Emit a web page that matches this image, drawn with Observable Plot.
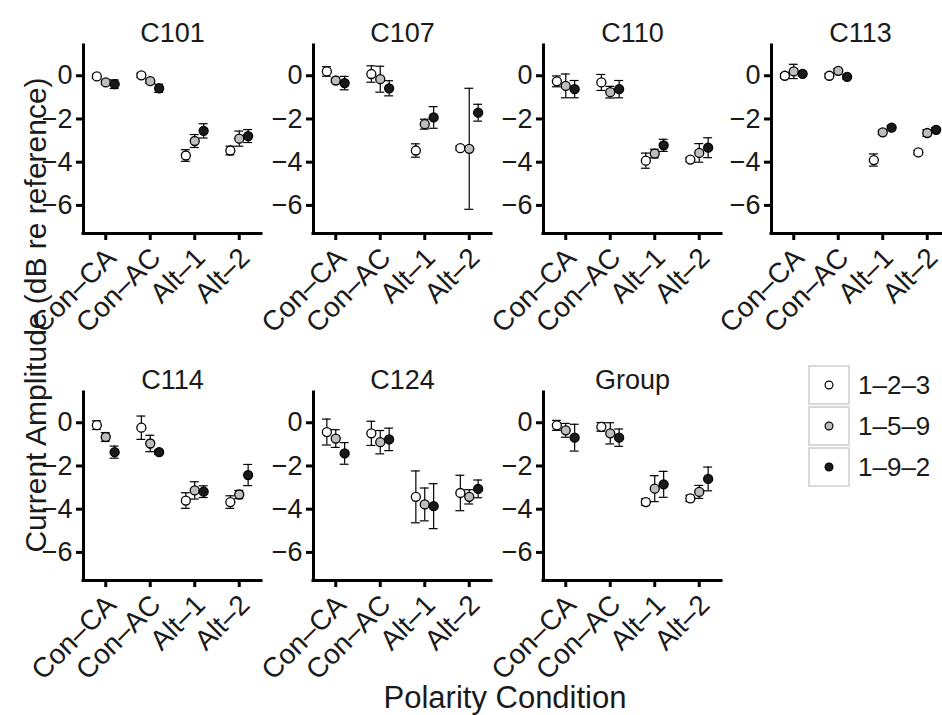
<!DOCTYPE html>
<html><head><meta charset="utf-8">
<script src="https://cdn.jsdelivr.net/npm/d3@7"></script>
<script src="https://cdn.jsdelivr.net/npm/@observablehq/plot@0.6"></script>
<style>
body{margin:0;background:#fff;font-family:"Liberation Sans",Arial,Helvetica,sans-serif;}
#chart{position:relative;width:942px;height:715px;overflow:hidden;background:#fff;color:#1a1a1a}
.panel{position:absolute}
.lgbox{position:absolute;box-sizing:border-box;border:2px solid #d9d9d9;width:42px;height:40px}
.lglab{position:absolute;font-size:26px;line-height:40px;height:40px;white-space:nowrap}
</style></head><body><div id="chart"></div>
<script>
// ---- data ----
const conditions = ["Con–CA", "Con–AC", "Alt–1", "Alt–2"];
const configs = ["1–2–3", "1–5–9", "1–9–2"];
const panelNames = ["C101", "C107", "C110", "C113", "C114", "C124", "Group"];
const yTicks = [0, -2, -4, -6];

// means: per condition, [1-2-3, 1-5-9, 1-9-2]
const c101Mean = [[-0.03, -0.31, -0.39], [0.02, -0.25, -0.58], [-3.69, -3.02, -2.55], [-3.46, -2.91, -2.79]];
const c101Err  = [[0.10, 0.10, 0.20], [0.10, 0.10, 0.19], [0.27, 0.30, 0.33], [0.20, 0.35, 0.30]];
const c107Mean = [[0.20, -0.22, -0.34], [0.08, -0.16, -0.58], [-3.46, -2.24, -1.93], [-3.35, -3.38, -1.71]];
const c107Err  = [[0.22, 0.10, 0.31], [0.38, 0.60, 0.35], [0.31, 0.23, 0.50], [0.10, 2.80, 0.39]];
const c110Mean = [[-0.26, -0.47, -0.62], [-0.31, -0.76, -0.62], [-3.93, -3.60, -3.22], [-3.88, -3.57, -3.33]];
const c110Err  = [[0.25, 0.55, 0.40], [0.37, 0.27, 0.40], [0.35, 0.20, 0.28], [0.10, 0.43, 0.46]];
const c113Mean = [[0.00, 0.20, 0.09], [0.00, 0.23, -0.05], [-3.90, -2.62, -2.40], [-3.55, -2.65, -2.50]];
const c113Err  = [[0.10, 0.33, 0.10], [0.10, 0.10, 0.10], [0.28, 0.10, 0.10], [0.10, 0.15, 0.10]];
const c114Mean = [[-0.11, -0.66, -1.36], [-0.23, -0.96, -1.36], [-3.60, -3.13, -3.19], [-3.67, -3.32, -2.42]];
const c114Err  = [[0.20, 0.20, 0.28], [0.54, 0.38, 0.10], [0.36, 0.40, 0.27], [0.29, 0.19, 0.49]];
const c124Mean = [[-0.43, -0.73, -1.42], [-0.49, -0.90, -0.77], [-3.43, -3.78, -3.86], [-3.25, -3.43, -3.06]];
const c124Err  = [[0.60, 0.41, 0.50], [0.56, 0.54, 0.52], [1.20, 0.76, 1.04], [0.82, 0.33, 0.41]];
const groupMean = [[-0.12, -0.35, -0.69], [-0.19, -0.49, -0.69], [-3.67, -3.05, -2.85], [-3.50, -3.20, -2.60]];
const groupErr  = [[0.23, 0.32, 0.62], [0.20, 0.49, 0.40], [0.15, 0.60, 0.60], [0.15, 0.30, 0.55]];

const panelMeans = [c101Mean, c107Mean, c110Mean, c113Mean, c114Mean, c124Mean, groupMean];
const panelErrs = [c101Err, c107Err, c110Err, c113Err, c114Err, c124Err, groupErr];

// ---- style / layout ----
const FONT = '"Liberation Sans", Arial, Helvetica, sans-serif';
const fills = ["#ffffff", "#bdbdbd", "#1a1a1a"];
const dodge = 0.2, cap = 0.1;
const colLeft = [33, 263, 493, 721];
const rowTop = [0, 347];
const chart = document.getElementById("chart");

function rows(means, errs) {
  const out = [];
  conditions.forEach((c, ci) => configs.forEach((g, gi) => {
    out.push({cond: c, config: g, xi: ci + (gi - 1) * dodge, mean: means[ci][gi], err: errs[ci][gi]});
  }));
  return out;
}

panelNames.forEach((name, p) => {
  const data = rows(panelMeans[p], panelErrs[p]);
  const col = p % 4, row = Math.floor(p / 4);
  const plot = Plot.plot({
    width: 230, height: 323,
    marginLeft: 50, marginRight: 2, marginTop: 45, marginBottom: 90,
    style: {fontFamily: FONT, background: "transparent", color: "#1a1a1a", overflow: "visible"},
    x: {type: "linear", domain: [-0.5, 3.5]},
    y: {domain: [-7.3, 1.4]},
    color: {domain: configs, range: fills},
    marks: [
      Plot.ruleX([-0.5], {stroke: "#000", strokeWidth: 3, strokeLinecap: "square"}),
      Plot.ruleY([-7.3], {stroke: "#000", strokeWidth: 3, strokeLinecap: "square"}),
      Plot.axisY({ticks: yTicks, tickSize: 7, tickPadding: 4, strokeWidth: 3, stroke: "#000", fontSize: 27, label: null}),
      Plot.axisX({ticks: [0, 1, 2, 3], tickFormat: () => "", tickSize: 7, strokeWidth: 3, stroke: "#000", label: null}),
      Plot.text(conditions, {x: (d, i) => i, text: d => d, frameAnchor: "bottom", rotate: -45,
                 textAnchor: "end", lineAnchor: "bottom", dx: 12, dy: 26, fontSize: 28, fill: "#1a1a1a"}),
      Plot.ruleX(data, {x: "xi", y1: d => d.mean - d.err, y2: d => d.mean + d.err, stroke: "#000", strokeWidth: 1.2}),
      Plot.ruleY(data, {y: d => d.mean - d.err, x1: d => d.xi - cap, x2: d => d.xi + cap, stroke: "#000", strokeWidth: 1.2}),
      Plot.ruleY(data, {y: d => d.mean + d.err, x1: d => d.xi - cap, x2: d => d.xi + cap, stroke: "#000", strokeWidth: 1.2}),
      Plot.dot(data, {x: "xi", y: "mean", r: 4.5, fill: "config", stroke: "#000", strokeWidth: 1.3}),
      Plot.text([name], {text: d => d, frameAnchor: "top", dy: -23, fontSize: 27, fill: "#1a1a1a"})
    ]
  });
  plot.classList.add("panel");
  plot.style.left = colLeft[col] + "px";
  plot.style.top = rowTop[row] + "px";
  chart.appendChild(plot);
});

// legend
configs.forEach((g, i) => {
  const top = 365 + 41 * i;
  const box = document.createElement("div");
  box.className = "lgbox";
  box.style.left = "808px"; box.style.top = top + "px";
  box.innerHTML = `<svg width="38" height="36" style="display:block"><circle cx="19" cy="18" r="3.9" fill="${fills[i]}" stroke="#000" stroke-width="1.2"/></svg>`;
  chart.appendChild(box);
  const lab = document.createElement("div");
  lab.className = "lglab";
  lab.style.left = "858px"; lab.style.top = top + "px";
  lab.textContent = g;
  chart.appendChild(lab);
});

// axis titles
const ns = "http://www.w3.org/2000/svg";
const ov = document.createElementNS(ns, "svg");
ov.setAttribute("width", 942); ov.setAttribute("height", 715);
ov.style.position = "absolute"; ov.style.left = "0px"; ov.style.top = "0px"; ov.style.pointerEvents = "none";
ov.setAttribute("font-family", FONT);
const yt = document.createElementNS(ns, "text");
yt.setAttribute("transform", "translate(46,315) rotate(-90)");
yt.setAttribute("text-anchor", "middle"); yt.setAttribute("font-size", 30); yt.setAttribute("fill", "#1a1a1a");
yt.textContent = "Current Amplitude (dB re reference)";
ov.appendChild(yt);
const xt = document.createElementNS(ns, "text");
xt.setAttribute("x", 505); xt.setAttribute("y", 708);
xt.setAttribute("text-anchor", "middle"); xt.setAttribute("font-size", 31); xt.setAttribute("fill", "#1a1a1a");
xt.textContent = "Polarity Condition";
ov.appendChild(xt);
chart.appendChild(ov);
</script></body></html>
